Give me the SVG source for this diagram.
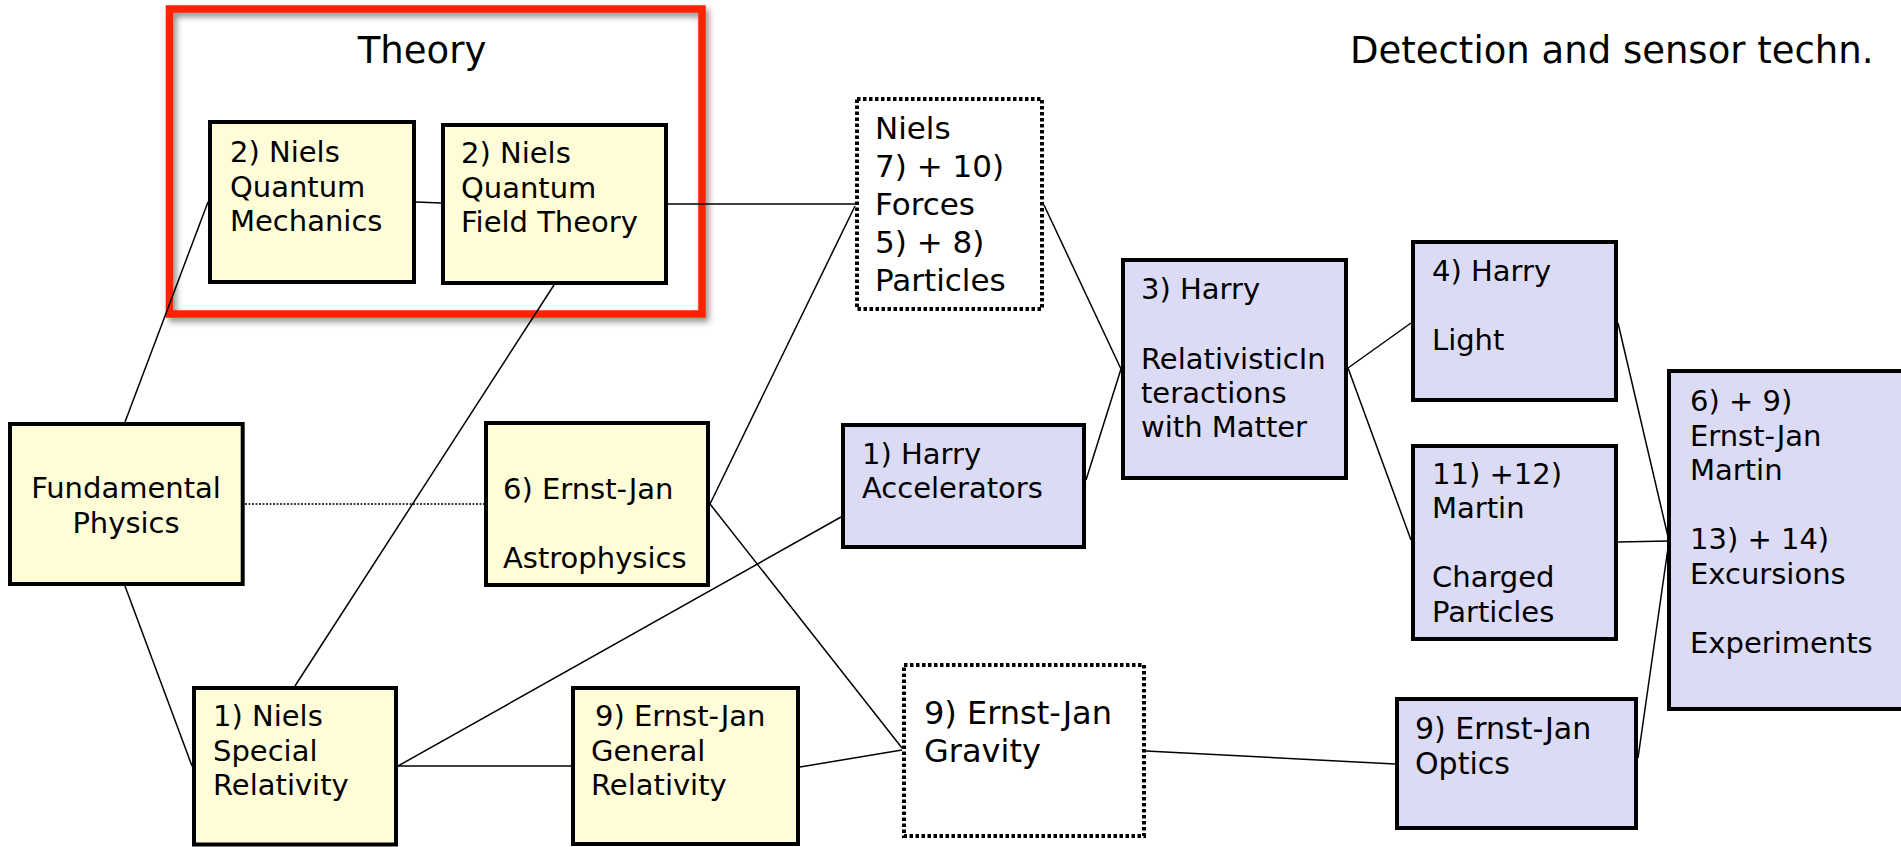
<svg xmlns="http://www.w3.org/2000/svg" width="1901" height="847" viewBox="0 0 1901 847">
<style>
text{font-family:"DejaVu Sans","Liberation Sans",sans-serif;font-size:29px;fill:#000}
.hdr{font-size:37px}
.big{font-size:31px}
.grav{font-size:32px}
.opt{font-size:30px}
.y{fill:#FFFDD8;stroke:#000;stroke-width:4}
.b{fill:#DBDBF5;stroke:#000;stroke-width:4}
.d{fill:#fff;stroke:#000;stroke-width:4;stroke-dasharray:3.5 2.5}
.c line{stroke:#000;stroke-width:1.5}
.c .dot{stroke-width:1.5;stroke-dasharray:2 1.5}
</style>
<defs>
<filter id="sh" x="-5%" y="-5%" width="112%" height="115%">
<feDropShadow dx="3" dy="4" stdDeviation="3" flood-color="#000" flood-opacity="0.45"/>
</filter>
</defs>
<rect width="1901" height="847" fill="#fff"/>

<g id="theory-frame">
<rect x="169.5" y="9" width="532.5" height="305" fill="none" stroke="#FF2200" stroke-width="7.5" filter="url(#sh)"/>
<text class="hdr" x="422" y="63" text-anchor="middle">Theory</text>
</g>
<g id="detection-label">
<text class="hdr" x="1350" y="63">Detection and sensor techn.</text>
</g>

<g class="c" id="connectors">
<line x1="125" y1="422" x2="208" y2="202"/>
<line x1="125" y1="586" x2="192" y2="766"/>
<line class="dot" x1="245" y1="504" x2="484" y2="504"/>
<line x1="416" y1="202" x2="441" y2="203"/>
<line x1="668" y1="204" x2="855" y2="204"/>
<line x1="554" y1="285" x2="295" y2="686"/>
<line x1="855" y1="206" x2="710" y2="504"/>
<line x1="1044" y1="205" x2="1121" y2="369"/>
<line x1="710" y1="504" x2="902" y2="748"/>
<line x1="841" y1="517" x2="398" y2="766"/>
<line x1="1086" y1="480" x2="1121" y2="369"/>
<line x1="398" y1="766" x2="571" y2="766"/>
<line x1="800" y1="767" x2="902" y2="750"/>
<line x1="1146" y1="751" x2="1395" y2="764"/>
<line x1="1348" y1="368" x2="1411" y2="323"/>
<line x1="1348" y1="368" x2="1411" y2="540"/>
<line x1="1618" y1="323" x2="1669" y2="541"/>
<line x1="1618" y1="542" x2="1669" y2="541"/>
<line x1="1638" y1="758" x2="1669" y2="541"/>
</g>

<g id="qm">
<rect class="y" x="210" y="122" width="204" height="160"/>
<text x="230" y="162">2) Niels</text>
<text x="230" y="196.5">Quantum</text>
<text x="230" y="231">Mechanics</text>
</g>
<g id="qft">
<rect class="y" x="443" y="125" width="223" height="158"/>
<text x="461" y="163">2) Niels</text>
<text x="461" y="197.5">Quantum</text>
<text x="461" y="232">Field Theory</text>
</g>
<g id="niels-forces">
<rect class="d" x="857" y="99" width="185" height="210"/>
<text class="big" x="875" y="139">Niels</text>
<text class="big" x="875" y="177">7) + 10)</text>
<text class="big" x="875" y="215">Forces</text>
<text class="big" x="875" y="253">5) + 8)</text>
<text class="big" x="875" y="291">Particles</text>
</g>
<g id="fundamental">
<rect class="y" x="10" y="424" width="232.7" height="160"/>
<text x="126" y="498" text-anchor="middle">Fundamental</text>
<text x="126" y="533" text-anchor="middle">Physics</text>
</g>
<g id="astro">
<rect class="y" x="486" y="423" width="222" height="162"/>
<text x="503" y="499">6) Ernst-Jan</text>
<text x="503" y="568">Astrophysics</text>
</g>
<g id="accelerators">
<rect class="b" x="843" y="425" width="241" height="122"/>
<text x="862" y="464">1) Harry</text>
<text x="862" y="498">Accelerators</text>
</g>
<g id="relativistic">
<rect class="b" x="1123" y="260" width="223" height="218"/>
<text x="1141" y="299">3) Harry</text>
<text x="1141" y="369">RelativisticIn</text>
<text x="1141" y="403">teractions</text>
<text x="1141" y="437">with Matter</text>
</g>
<g id="light">
<rect class="b" x="1413" y="242" width="203" height="158"/>
<text x="1432" y="281">4) Harry</text>
<text x="1432" y="350">Light</text>
</g>
<g id="charged">
<rect class="b" x="1413" y="446" width="203" height="193"/>
<text x="1432" y="484">11) +12)</text>
<text x="1432" y="518">Martin</text>
<text x="1432" y="587">Charged</text>
<text x="1432" y="622">Particles</text>
</g>
<g id="experiments">
<rect class="b" x="1669" y="371" width="260" height="338"/>
<text x="1690" y="411">6) + 9)</text>
<text x="1690" y="445.5">Ernst-Jan</text>
<text x="1690" y="480">Martin</text>
<text x="1690" y="549">13) + 14)</text>
<text x="1690" y="583.5">Excursions</text>
<text x="1690" y="652.5">Experiments</text>
</g>
<g id="optics">
<rect class="b" x="1397" y="699" width="239" height="129"/>
<text class="opt" x="1415" y="739">9) Ernst-Jan</text>
<text class="opt" x="1415" y="774">Optics</text>
</g>
<g id="gravity">
<rect class="d" x="904" y="665" width="240" height="171"/>
<text class="grav" x="924" y="724">9) Ernst-Jan</text>
<text class="grav" x="924" y="762">Gravity</text>
</g>
<g id="general-relativity">
<rect class="y" x="573" y="688" width="225" height="156"/>
<text x="595" y="726">9) Ernst-Jan</text>
<text x="591" y="761">General</text>
<text x="591" y="795">Relativity</text>
</g>
<g id="special-relativity">
<rect class="y" x="194" y="688" width="202" height="156.5"/>
<text x="213" y="726">1) Niels</text>
<text x="213" y="761">Special</text>
<text x="213" y="795">Relativity</text>
</g>
</svg>
